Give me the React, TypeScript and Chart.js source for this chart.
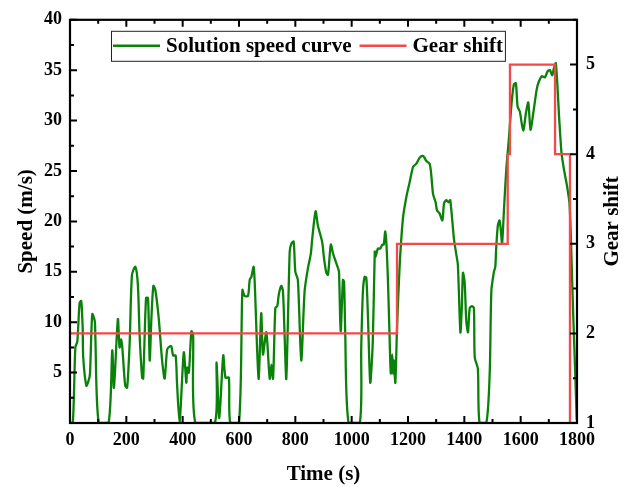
import { useEffect, useRef } from 'react';
import { Chart, registerables } from 'chart.js';

Chart.register(...registerables);

// ---- Data ----
const speedTimes = [
  0, 10, 19, 26, 34, 40, 45, 47, 58, 66, 71, 79, 88, 90, 102, 137, 150, 156, 170, 176,
  182, 186, 196, 203, 212, 220, 232, 241, 247, 256, 260, 270, 277, 283, 289, 296, 303, 315, 327, 336,
  345, 354, 360, 366, 375, 380, 389, 404, 413, 416, 422, 431, 437, 445, 514, 520, 530, 544, 552, 564,
  569, 600, 612, 620, 632, 638, 644, 652, 657, 664, 670, 679, 685, 697, 709, 715, 721, 729, 736, 741,
  750, 756, 762, 768, 780, 786, 794, 800, 809, 821, 833, 845, 855, 860, 872, 880, 895, 902, 910, 916,
  926, 934, 951, 955, 961, 969, 973, 977, 989, 1029, 1034, 1040, 1046, 1052, 1058, 1066, 1075, 1082, 1085, 1093,
  1101, 1109, 1114, 1119, 1123, 1129, 1135, 1139, 1144, 1148, 1150, 1155, 1161, 1170, 1182, 1194, 1206, 1218, 1229, 1241,
  1250, 1257, 1265, 1277, 1283, 1289, 1298, 1303, 1312, 1322, 1328, 1336, 1344, 1350, 1363, 1371, 1377, 1386, 1391, 1395,
  1401, 1407, 1413, 1419, 1427, 1434, 1437, 1448, 1454, 1478, 1490, 1496, 1505, 1510, 1513, 1519, 1525, 1530, 1534, 1541,
  1549, 1557, 1568, 1576, 1583, 1589, 1597, 1609, 1619, 1627, 1635, 1645, 1657, 1665, 1675, 1686, 1696, 1704, 1712, 1718,
  1725, 1737, 1745, 1754, 1764, 1773, 1777, 1781, 1787, 1793, 1799,
];
const speedValues = [
  0, 0, 7.5, 8.1, 11.9, 12.1, 9.4, 6.5, 3.7, 4.2, 4.9, 10.8, 10.1, 8.5, 0, 0, 7.2, 3.5, 10.3, 7.5,
  8.3, 7.4, 3.7, 3.5, 8.1, 14.7, 15.5, 13.7, 8.8, 4.5, 4.4, 12.4, 12.4, 6.2, 10.4, 13.6, 13.2, 10.4, 6.2, 4.4,
  7.3, 7.6, 7.6, 6.7, 6.7, 3.9, 0, 7.0, 4.0, 5.5, 5.0, 9.1, 8.8, 0, 0, 6.0, 0.5, 6.7, 4.5, 4.5,
  0, 0, 13.2, 12.6, 12.6, 14.2, 14.5, 15.5, 13.1, 7.5, 4.4, 10.9, 6.8, 9.0, 4.4, 5.8, 4.4, 11.4, 11.6, 12.7,
  13.6, 13.1, 8.6, 4.4, 17.0, 17.8, 18.0, 15.0, 14.2, 6.2, 13.1, 15.4, 16.8, 18.3, 21.0, 19.6, 18.0, 16.3, 14.9, 14.7,
  17.7, 16.8, 15.4, 15.0, 9.1, 14.2, 14.0, 9.1, 0, 0, 7.5, 13.1, 14.5, 14.4, 10.4, 4.0, 8.1, 17.0, 16.5, 17.3,
  17.3, 17.7, 17.7, 19.0, 18.0, 14.0, 8.1, 4.9, 6.8, 4.9, 6.2, 4.0, 9.4, 15.4, 20.3, 22.4, 23.9, 25.4, 25.7, 26.3,
  26.5, 26.4, 26.0, 25.7, 24.5, 22.7, 21.9, 21.1, 20.8, 20.1, 21.8, 22.1, 21.9, 22.1, 18.3, 16.8, 15.7, 9.0, 11.4, 14.9,
  14.0, 10.1, 9.0, 11.4, 11.6, 11.4, 6.5, 5.4, 0, 0, 4.9, 13.1, 15.0, 15.5, 17.3, 19.6, 20.1, 19.0, 17.8, 21.3,
  25.2, 27.8, 31.8, 33.6, 33.7, 31.4, 30.9, 29.0, 30.8, 31.8, 29.1, 30.8, 33.1, 33.9, 34.4, 34.3, 34.9, 35.0, 34.5, 35.2,
  35.7, 30.1, 26.8, 25.1, 23.6, 21.9, 19.5, 15.8, 10.4, 5.5, 0.3,
];

const gearTimes = [0, 1161, 1554, 1562, 1722, 1775, 1800];
const gearValues = [2, 3, 4, 5, 4, 1, 1];

const seriesLabels = ['Solution speed curve', 'Gear shift'];
const xTitle = 'Time (s)';
const yTitle = 'Speed (m/s)';
const y2Title = 'Gear shift';

const xRange = [0, 1800];
const xMajorStep = 200;
const xMinorStep = 100;
const yRange = [0, 40];
const yMajorStep = 5;
const yMinorStep = 2.5;
const y2Range = [1, 5.5];
const y2MajorStep = 1;
const y2MinorStep = 0.5;

const GREEN = '#0a820a';
const RED = '#f24a4a';
const FONT = '"Liberation Serif", "Times New Roman", serif';

const framePlugin = {
  id: 'frameTicks',
  afterDatasetsDraw(chart: any) {
    const { ctx, chartArea: a, scales } = chart;
    const xs = scales.x;
    const ys = scales.y;
    const y2s = scales.y2;
    ctx.save();
    ctx.strokeStyle = '#000';
    ctx.lineWidth = 2;
    ctx.beginPath();
    for (let t = xRange[0]; t <= xRange[1] + 1e-9; t += xMinorStep) {
      const px = xs.getPixelForValue(t);
      const len = Math.abs(t % xMajorStep) < 1e-9 ? 7 : 4;
      ctx.moveTo(px, a.bottom);
      ctx.lineTo(px, a.bottom - len);
      ctx.moveTo(px, a.top);
      ctx.lineTo(px, a.top + len);
    }
    for (let v = yRange[0]; v <= yRange[1] + 1e-9; v += yMinorStep) {
      const py = ys.getPixelForValue(v);
      const len = Math.abs(v % yMajorStep) < 1e-9 ? 7 : 4;
      ctx.moveTo(a.left, py);
      ctx.lineTo(a.left + len, py);
    }
    for (let g = y2Range[0]; g <= y2Range[1] + 1e-9; g += y2MinorStep) {
      const py = y2s.getPixelForValue(g);
      const len = Math.abs(g % y2MajorStep) < 1e-9 ? 7 : 4;
      ctx.moveTo(a.right, py);
      ctx.lineTo(a.right - len, py);
    }
    ctx.stroke();
    ctx.lineWidth = 2.2;
    ctx.strokeRect(a.left, a.top, a.right - a.left, a.bottom - a.top);

    // right axis title (reads bottom-to-top)
    ctx.fillStyle = '#000';
    ctx.font = `bold 21px ${FONT}`;
    ctx.textAlign = 'center';
    ctx.textBaseline = 'middle';
    ctx.translate(613, (a.top + a.bottom) / 2);
    ctx.rotate(-Math.PI / 2);
    ctx.fillText(y2Title, 0, 0);
    ctx.restore();

    // legend
    ctx.save();
    const left = a.left + 41;
    const top = a.top + 11;
    const h = 30;
    const cy = top + h / 2;
    ctx.font = `bold 21px ${FONT}`;
    ctx.textBaseline = 'middle';
    ctx.textAlign = 'left';
    let x = left + 2;
    const items = chart.data.datasets.map((d: any) => ({ label: d.label, color: d.borderColor }));
    items.forEach((it: any, i: number) => {
      if (i > 0) x += 8;
      ctx.strokeStyle = it.color;
      ctx.lineWidth = 2.5;
      ctx.beginPath();
      ctx.moveTo(x, cy);
      ctx.lineTo(x + 47, cy);
      ctx.stroke();
      x += 53;
      ctx.fillStyle = '#000';
      ctx.fillText(it.label, x, cy + 1);
      x += ctx.measureText(it.label).width;
    });
    const right = x + 2;
    ctx.strokeStyle = '#222';
    ctx.lineWidth = 1;
    ctx.strokeRect(left + 0.5, top + 0.5, right - left, h);
    ctx.restore();
  },
};

export default function App() {
  const ref = useRef<HTMLCanvasElement | null>(null);

  useEffect(() => {
    if (!ref.current) return;
    const tickFont = { family: FONT, size: 18, weight: 'bold' as const };
    const titleFont = { family: FONT, size: 21, weight: 'bold' as const };
    const chart = new Chart(ref.current, {
      type: 'line',
      data: {
        datasets: [
          {
            label: seriesLabels[0],
            data: speedTimes.map((t, i) => ({ x: t, y: speedValues[i] })),
            borderColor: GREEN,
            backgroundColor: GREEN,
            borderWidth: 2.3,
            pointRadius: 0,
            tension: 0.25,
            yAxisID: 'y',
            order: 2,
          },
          {
            label: seriesLabels[1],
            data: gearTimes.map((t, i) => ({ x: t, y: gearValues[i] })),
            borderColor: RED,
            backgroundColor: RED,
            borderWidth: 2.3,
            pointRadius: 0,
            stepped: true,
            yAxisID: 'y2',
            order: 1,
          },
        ],
      },
      options: {
        responsive: false,
        animation: false,
        layout: { padding: { top: 16, left: 0, right: 0, bottom: 0 } },
        plugins: { legend: { display: false }, tooltip: { enabled: false } },
        scales: {
          x: {
            type: 'linear',
            min: xRange[0],
            max: xRange[1],
            grid: { display: false, drawTicks: false },
            border: { display: false },
            ticks: {
              stepSize: xMajorStep,
              font: tickFont,
              color: '#000',
              padding: 7,
              maxRotation: 0,
              autoSkip: false,
              callback: (v: any) => String(v),
            },
            title: { display: true, text: xTitle, font: titleFont, color: '#000', padding: { top: 4, bottom: 0 } },
            afterFit: (s: any) => { s.height = 64; },
          },
          y: {
            type: 'linear',
            position: 'left',
            min: yRange[0],
            max: yRange[1],
            grid: { display: false, drawTicks: false },
            border: { display: false },
            ticks: {
              stepSize: yMajorStep,
              font: tickFont,
              color: '#000',
              padding: 8,
              callback: (v: any) => (v === 0 ? '' : String(v)),
            },
            title: { display: true, text: yTitle, font: titleFont, color: '#000', padding: { top: 14, bottom: 0 } },
            afterFit: (s: any) => { s.width = 70; },
          },
          y2: {
            type: 'linear',
            position: 'right',
            min: y2Range[0],
            max: y2Range[1],
            grid: { display: false, drawTicks: false },
            border: { display: false },
            ticks: {
              stepSize: y2MajorStep,
              font: tickFont,
              color: '#000',
              padding: 9,
              callback: (v: any) => (Number.isInteger(v) ? String(v) : ''),
            },
            afterFit: (s: any) => { s.width = 61; },
          },
        },
      },
      plugins: [framePlugin],
    });
    return () => chart.destroy();
  }, []);

  return (
    <div style={{ position: 'fixed', left: 0, top: 0, width: 638, height: 487, background: '#fff' }}>
      <canvas ref={ref} width={638} height={487} style={{ width: 638, height: 487 }} />
    </div>
  );
}
